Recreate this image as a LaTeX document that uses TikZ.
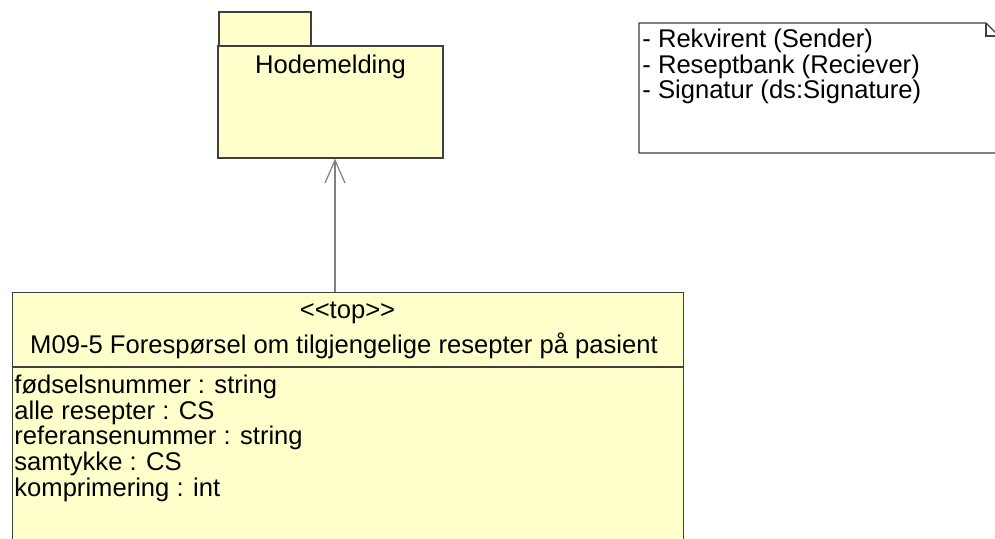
\documentclass[tikz,border=0pt]{standalone}
\usepackage{fontspec}
\setmainfont{Liberation Sans}
\usetikzlibrary{arrows.meta,positioning}
\definecolor{umlyellow}{RGB}{255,255,204}
\definecolor{umlline}{RGB}{64,64,64}

\begin{document}
\begin{tikzpicture}[x=0.5pt,y=-0.5pt,node distance=12.85pt,on grid,
    box/.style={draw=umlline,fill=umlyellow,line width=0.6pt,inner sep=0pt},
    txt/.style={inner sep=0pt,text height=9pt,text depth=2.6pt,
      font=\fontsize{12.8}{12.8}\selectfont},
    attr/.style={txt,anchor=west},
    generalization/.style={draw=gray,line width=0.6pt,
      -{Straight Barb[length=11.5pt,width=10pt,line width=0.6pt]}}]
  \clip (0,0) rectangle (995,538);

  % package
  \node[box,minimum width=46pt,minimum height=17pt] (tab) at (265,29) {};
  \node[box,minimum width=112.5pt,minimum height=56pt] (hode) at (330.5,102) {};
  \node[txt] (hodename) at (330.5,67) {Hodemelding};

  % note
  \draw[umlline,fill=white,line width=0.6pt] (639,23) -- (986,23) -- (999,36)
    -- (999,153) -- (639,153) -- cycle;
  \draw[umlline,line width=0.6pt] (986,23) -- (986,36) -- (999,36);
  \node[attr] (sender) at (642,41) {- Rekvirent (Sender)};
  \node[attr] (receiver) [below=of sender.west,anchor=west] {- Reseptbank (Reciever)};
  \node[attr] (signatur) [below=of receiver.west,anchor=west] {- Signatur (ds:Signature)};

  % message class
  \node[box,minimum width=335.5pt,minimum height=140pt,anchor=north west]
    (msg) at (12,292) {};
  \draw[umlline,line width=0.6pt] ([yshift=-37.5pt]msg.north west)
    -- ([yshift=-37.5pt]msg.north east);
  \node[txt] (stereo) at (347.5,312) {<\kern0pt<top>\kern0pt>};
  \node[txt] (msgname) at (344,347) {M09-5 Forespørsel om tilgjengelige resepter på pasient};
  \node[attr] (a1) at (14,387) {fødselsnummer : string};
  \node[attr] (a2) [below=of a1.west,anchor=west] {alle resepter : CS};
  \node[attr] (a3) [below=of a2.west,anchor=west] {referansenummer : string};
  \node[attr] (a4) [below=of a3.west,anchor=west] {samtykke : CS};
  \node[attr] (a5) [below=of a4.west,anchor=west] {komprimering : int};

  \draw[generalization] (msg.north -| 335,0) -- (hode.south -| 335,0);
\end{tikzpicture}
\end{document}
